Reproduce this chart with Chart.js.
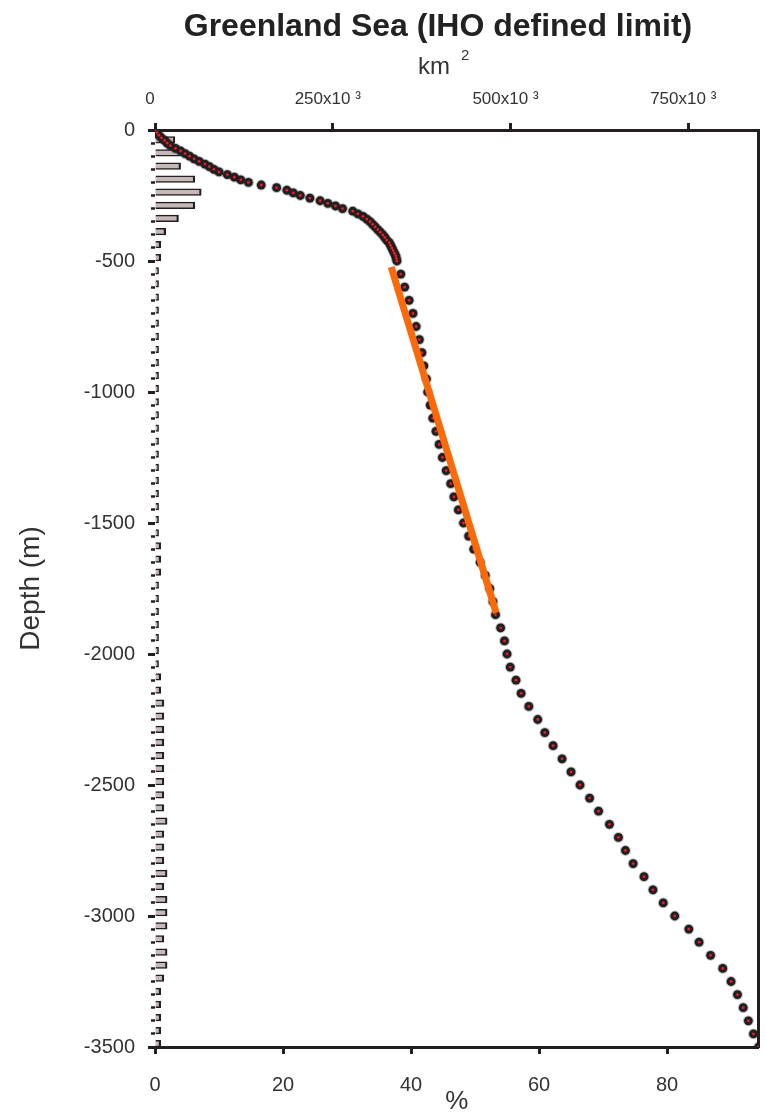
<!DOCTYPE html>
<html>
<head>
<meta charset="utf-8">
<title>Greenland Sea hypsometry</title>
<script src="https://cdn.jsdelivr.net/npm/chart.js@4.4.1/dist/chart.umd.min.js"></script>
<style>
  html, body { margin: 0; padding: 0; background: #fff; }
  #wrap { width: 765px; height: 1115px; }
</style>
</head>
<body>
<div id="wrap"><canvas id="hypso"></canvas></div>
<script>
// hypsometric curve: depth (m) and cumulative % of area
const curveDepth = [
  0, -10, -20, -30, -40, -50, -60, -70, -80, -90,
  -100, -110, -120, -130, -140, -150, -160, -170, -180, -190,
  -200, -210, -220, -230, -240, -250, -260, -270, -280, -290,
  -300, -310, -320, -330, -340, -350, -360, -370, -380, -390,
  -400, -410, -420, -430, -440, -450, -460, -470, -480, -490,
  -500, -550, -600, -650, -700, -750, -800, -850, -900, -950,
  -1000, -1050, -1100, -1150, -1200, -1250, -1300, -1350, -1400, -1450,
  -1500, -1550, -1600, -1650, -1700, -1750, -1800, -1850, -1900, -1950,
  -2000, -2050, -2100, -2150, -2200, -2250, -2300, -2350, -2400, -2450,
  -2500, -2550, -2600, -2650, -2700, -2750, -2800, -2850, -2900, -2950,
  -3000, -3050, -3100, -3150, -3200, -3250, -3300, -3350, -3400, -3450,
  -3500
];
const curvePct = [
  0.0, 0.3, 0.6, 1.0, 1.5, 1.9, 2.4, 3.2, 4.0, 4.7,
  5.4, 6.1, 6.9, 7.8, 8.5, 9.2, 10.0, 11.3, 12.4, 13.4,
  14.6, 16.6, 19.0, 20.6, 21.6, 22.7, 24.2, 25.8, 27.0, 28.2,
  29.3, 30.9, 31.7, 32.5, 33.1, 33.6, 34.0, 34.4, 34.8, 35.2,
  35.6, 35.9, 36.2, 36.6, 36.8, 37.0, 37.2, 37.4, 37.6, 37.7,
  37.8, 38.4, 39.0, 39.7, 40.3, 40.8, 41.3, 41.7, 42.0, 42.4,
  42.6, 43.0, 43.4, 43.9, 44.4, 44.9, 45.5, 46.2, 46.7, 47.4,
  48.2, 49.0, 49.8, 50.8, 51.6, 52.3, 52.8, 53.2, 54.0, 54.6,
  55.0, 55.5, 56.4, 57.2, 58.4, 59.8, 60.9, 62.2, 63.6, 65.0,
  66.4, 67.9, 69.3, 71.0, 72.4, 73.5, 74.7, 76.4, 77.8, 79.4,
  81.2, 83.4, 85.0, 86.8, 88.7, 90.0, 91.0, 91.9, 92.7, 93.5,
  94.3
];

// histogram: area (km2) in each 50 m depth bin, from the surface down
const binArea = [
  28000, 36000, 36000, 56000, 65000, 56000, 33000, 15000, 8000, 8000,
  5000, 5000, 5000, 5000, 5000, 5000, 5000, 5000, 5000, 5000,
  5000, 5000, 5000, 5000, 5000, 5000, 5000, 5000, 5000, 5000,
  5000, 8000, 8000, 8000, 5000, 5000, 5000, 5000, 5000, 5000,
  5000, 8000, 8000, 12500, 12500, 12500, 12500, 12500, 12500, 12500,
  12500, 12500, 17000, 12500, 12500, 12500, 17000, 12500, 17000, 17000,
  17000, 12500, 17000, 17000, 12500, 8000, 8000, 8000, 8000, 8000
];
const binMid = binArea.map((_, i) => -25 - 50 * i);

// orange straight segment
const fitPct = [36.9, 53.3];
const fitDepth = [-523, -1843];

// axes
const pctMax = 94.3;
const areaMax = 849000;
const pctTicks = [0, 20, 40, 60, 80];
const areaTicks = [0, 250000, 500000, 750000];
const depthTicks = [0, -500, -1000, -1500, -2000, -2500, -3000, -3500];
const depthMinor = binArea.map((_, i) => -50 * i).concat([-3500]);

const chartTitle = 'Greenland Sea (IHO defined limit)';
const DARK = '#231f20';
const TXT = '#333333';
const FAMILY = '"Liberation Sans", Arial, sans-serif';
Chart.defaults.font.family = FAMILY;

const curve = curvePct.map((p, i) => ({ x: p, y: curveDepth[i] }));
const setTicks = list => s => { s.ticks = list.map(v => ({ value: v })); };

// title and the km2 label sit off-centre in the original, so they are drawn here
const headerText = {
  id: 'headerText',
  afterDraw(chart) {
    const ctx = chart.ctx;
    ctx.save();
    ctx.textBaseline = 'middle';
    ctx.textAlign = 'center';
    ctx.fillStyle = '#222';
    ctx.font = 'bold 32px ' + FAMILY;
    ctx.fillText(chartTitle, 438, 27);
    ctx.fillStyle = TXT;
    ctx.textAlign = 'left';
    ctx.font = '24px ' + FAMILY;
    ctx.fillText('km', 418, 67);
    ctx.font = '15px ' + FAMILY;
    ctx.fillText('2', 461, 56);
    ctx.restore();
  }
};

new Chart(document.getElementById('hypso'), {
  type: 'scatter',
  data: {
    datasets: [
      {
        type: 'line',
        data: fitPct.map((p, i) => ({ x: p, y: fitDepth[i] })),
        xAxisID: 'x', yAxisID: 'y',
        borderColor: '#fa6a0a', borderWidth: 7, borderCapStyle: 'butt',
        pointRadius: 0, order: 1
      },
      {
        data: curve, xAxisID: 'x', yAxisID: 'y',
        pointRadius: 1.4, pointBackgroundColor: '#ee1c25', pointBorderWidth: 0,
        order: 2
      },
      {
        data: curve, xAxisID: 'x', yAxisID: 'y',
        pointRadius: 4.4, pointBackgroundColor: DARK,
        pointBorderColor: 'rgba(35,31,32,0.3)', pointBorderWidth: 2,
        order: 3
      },
      {
        type: 'bar',
        indexAxis: 'y',
        data: binArea.map((a, i) => ({ x: a, y: binMid[i] })),
        xAxisID: 'x2', yAxisID: 'y',
        backgroundColor: '#c4b9b7', borderColor: DARK,
        borderWidth: { top: 1.5, right: 2.2, bottom: 1.5, left: 0 },
        categoryPercentage: 1, barPercentage: 1,
        order: 4
      }
    ]
  },
  plugins: [headerText],
  options: {
    responsive: true,
    maintainAspectRatio: false,
    animation: false,
    events: [],
    layout: { padding: { top: 48, right: 2 } },
    plugins: {
      legend: { display: false },
      tooltip: { enabled: false },
      title: { display: false }
    },
    scales: {
      x: {
        type: 'linear', position: 'bottom', min: 0, max: pctMax, offset: false,
        afterBuildTicks: setTicks(pctTicks),
        ticks: { padding: 19, color: TXT, font: { size: 20 } },
        grid: { offset: false, drawOnChartArea: false, tickLength: 7, tickWidth: 3, tickColor: DARK },
        border: { color: DARK, width: 3 },
        title: { display: true, text: '%', color: TXT, font: { size: 26, lineHeight: 1 }, padding: { top: 0, bottom: 0 } },
        afterFit: s => { s.height = 68; }
      },
      x2: {
        type: 'linear', position: 'top', min: 0, max: areaMax, offset: false,
        afterBuildTicks: setTicks(areaTicks),
        ticks: {
          padding: 13, labelOffset: -5, color: TXT, font: { size: 17 },
          callback: v => v === 0 ? '0' : (v / 1000) + 'x10 \u00b3'
        },
        grid: { offset: false, drawOnChartArea: false, tickLength: 7, tickWidth: 3, tickColor: DARK },
        border: { color: DARK, width: 3 },
        afterFit: s => { s.height = 130 - 48; }
      },
      y: {
        type: 'linear', position: 'left', weight: 1, min: -3500, max: 0, offset: false,
        afterBuildTicks: setTicks(depthTicks),
        ticks: { padding: 13, color: TXT, font: { size: 20 }, callback: v => String(v) },
        grid: { offset: false, drawOnChartArea: false, tickLength: 7, tickWidth: 3, tickColor: DARK },
        border: { display: false },
        title: { display: true, text: 'Depth (m)', color: TXT, font: { size: 28 }, padding: { top: 14, bottom: 0 } },
        afterFit: s => { s.width = 155; }
      },
      yMinor: {
        type: 'linear', position: 'left', weight: 0, min: -3500, max: 0, offset: false,
        afterBuildTicks: setTicks(depthMinor),
        ticks: { display: false, autoSkip: false },
        grid: { offset: false, drawOnChartArea: false, tickLength: 4, tickWidth: 2.5, tickColor: DARK },
        border: { display: false },
        afterFit: s => { s.width = 0; }
      },
      yR: {
        type: 'linear', position: 'right', min: -3500, max: 0, offset: false,
        ticks: { display: false },
        grid: { display: false },
        border: { display: true, color: DARK, width: 3 },
        afterFit: s => { s.width = 0; }
      }
    }
  }
});
</script>
</body>
</html>
